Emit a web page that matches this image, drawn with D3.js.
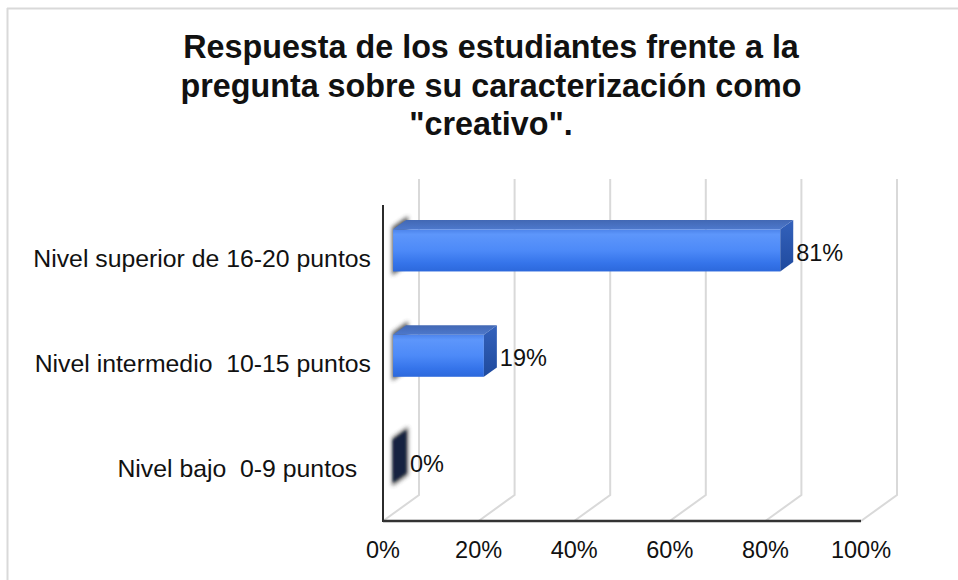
<!DOCTYPE html>
<html>
<head>
<meta charset="utf-8">
<script src="https://cdn.jsdelivr.net/npm/d3@7"></script>
<style>
  html, body { margin: 0; padding: 0; background: #fff; }
  svg { display: block; }
  text { font-family: "Liberation Sans", Arial, sans-serif; fill: #111; white-space: pre; }
</style>
</head>
<body>
<svg id="chart" width="958" height="580"></svg>
<script>
// Chart content
const titleLines = [
  "Respuesta de los estudiantes frente a la",
  "pregunta sobre su caracterización como",
  "\"creativo\"."
];
const categories = [
  "Nivel superior de 16-20 puntos",
  "Nivel intermedio  10-15 puntos",
  "Nivel bajo  0-9 puntos  "
];
const values = [81, 19, 0];
const tickValues = [0, 20, 40, 60, 80, 100];

const svg = d3.select("#chart");
const W = 958, H = 580;

// Front plane of the 3D plot area and the depth vector to the back wall
const front = { left: 383, right: 861, top: 205, bottom: 521 };
const depth = { dx: 36, dy: -26 };
const barDepth = [0.28, 0.64]; // bar slab sits between these depth fractions

const x = d3.scaleLinear().domain([0, 100]).range([front.left, front.right]);
const y = d3.scaleBand().domain(categories)
  .range([front.top, front.bottom])
  .paddingInner(0.6).paddingOuter(0.3);

const defs = svg.append("defs");
const frontGrad = defs.append("linearGradient").attr("id", "barFront")
  .attr("x1", 0).attr("y1", 0).attr("x2", 0).attr("y2", 1);
[[0, "#4c83ea"], [0.12, "#5d96fb"], [0.5, "#4d8af8"], [0.8, "#3574ea"], [1, "#2c68dc"]]
  .forEach(([o, c]) => frontGrad.append("stop").attr("offset", o).attr("stop-color", c));
const topGrad = defs.append("linearGradient").attr("id", "barTop")
  .attr("x1", 0).attr("y1", 0).attr("x2", 0).attr("y2", 1);
[[0, "#4268b4"], [1, "#4d78cc"]]
  .forEach(([o, c]) => topGrad.append("stop").attr("offset", o).attr("stop-color", c));
const sideGrad = defs.append("linearGradient").attr("id", "barSide")
  .attr("x1", 0).attr("y1", 0).attr("x2", 0).attr("y2", 1);
[[0, "#3462bc"], [1, "#1f4a9e"]]
  .forEach(([o, c]) => sideGrad.append("stop").attr("offset", o).attr("stop-color", c));
defs.append("filter").attr("id", "soft").attr("x", "-60%").attr("y", "-60%")
  .attr("width", "220%").attr("height", "220%")
  .append("feGaussianBlur").attr("stdDeviation", 2);
defs.append("filter").attr("id", "softer").attr("x", "-60%").attr("y", "-60%")
  .attr("width", "220%").attr("height", "220%")
  .append("feGaussianBlur").attr("stdDeviation", 1.2);

// Outer frame of the chart
svg.append("line").attr("x1", 7).attr("x2", W).attr("y1", 8.5).attr("y2", 8.5)
  .attr("stroke", "#d9d9d9").attr("stroke-width", 2);
svg.append("line").attr("x1", 7.5).attr("x2", 7.5).attr("y1", 8).attr("y2", H)
  .attr("stroke", "#d9d9d9").attr("stroke-width", 2);

// Title
svg.append("g").selectAll("text").data(titleLines).join("text")
  .attr("x", 491).attr("y", (d, i) => 58 + i * 38.5)
  .attr("text-anchor", "middle")
  .attr("font-weight", "bold").attr("font-size", 32.3)
  .text(d => d);

// Back-wall gridlines folding onto the floor
const grid = svg.append("g");
grid.selectAll("path").data(tickValues).join("path")
  .attr("d", t => {
    const bx = x(t) + depth.dx;
    return `M${bx},${front.top + depth.dy} L${bx},${front.bottom + depth.dy} L${x(t)},${front.bottom}`;
  })
  .attr("fill", "none").attr("stroke", "#d9d9d9").attr("stroke-width", 2);

// Bars as 3D slabs
const pts = a => a.map(p => p.join(",")).join(" ");
const bars = svg.append("g").selectAll("g").data(categories.map((c, i) => ({ c, v: values[i] }))).join("g");
bars.each(function (d) {
  const g = d3.select(this);
  const ox = depth.dx * barDepth[0], oy = depth.dy * barDepth[0];
  const sx = depth.dx * (barDepth[1] - barDepth[0]), sy = depth.dy * (barDepth[1] - barDepth[0]);
  const x0 = x(0) + ox, x1 = x(d.v) + ox;
  const y0 = y(d.c) + oy, y1 = y0 + y.bandwidth();
  // left end cap, soft grey
  g.append("polygon")
    .attr("points", pts([[x0 - 1, y0 - 2], [x0 + sx + 2, y0 + sy - 4], [x0 + sx + 2, y1 + sy + 2], [x0 - 1, y1 + 4]]))
    .attr("fill", "#444").attr("opacity", 0.9).attr("filter", "url(#soft)");
  if (d.v > 0) {
    g.append("rect").attr("x", x0).attr("y", y0).attr("width", x1 - x0).attr("height", y1 - y0)
      .attr("fill", "url(#barFront)");
    g.append("polygon")
      .attr("points", pts([[x0, y0], [x1, y0], [x1 + sx, y0 + sy], [x0 + sx, y0 + sy]]))
      .attr("fill", "url(#barTop)");
    g.append("polygon")
      .attr("points", pts([[x1, y0], [x1 + sx, y0 + sy], [x1 + sx, y1 + sy], [x1, y1]]))
      .attr("fill", "url(#barSide)");
  } else {
    g.append("polygon")
      .attr("points", pts([[x1, y0], [x1 + sx, y0 + sy], [x1 + sx, y1 + sy], [x1, y1]]))
      .attr("fill", "#13213f").attr("filter", "url(#softer)");
  }
  // value label
  g.append("text")
    .attr("x", x1 + sx + (d.v > 0 ? 3 : 4))
    .attr("y", (y0 + y1) / 2 + 2 + 8.5)
    .attr("font-size", 23.5)
    .text(d.v + "%");
});

// Front axes
svg.append("line").attr("x1", front.left).attr("x2", front.left)
  .attr("y1", front.top).attr("y2", front.bottom + 1)
  .attr("stroke", "#2b2b2b").attr("stroke-width", 2);
svg.append("line").attr("x1", front.left).attr("x2", front.right)
  .attr("y1", front.bottom).attr("y2", front.bottom)
  .attr("stroke", "#333").attr("stroke-width", 2.5);

// Category labels
svg.append("g").selectAll("text").data(categories).join("text")
  .attr("x", 371)
  .attr("y", c => y(c) + y.bandwidth() / 2 + 9)
  .attr("text-anchor", "end")
  .attr("font-size", 24.8)
  .text(d => d);

// Percentage tick labels
svg.append("g").selectAll("text").data(tickValues).join("text")
  .attr("x", t => x(t))
  .attr("y", 558)
  .attr("text-anchor", "middle")
  .attr("font-size", 23.5)
  .text(t => t + "%");
</script>
</body>
</html>
